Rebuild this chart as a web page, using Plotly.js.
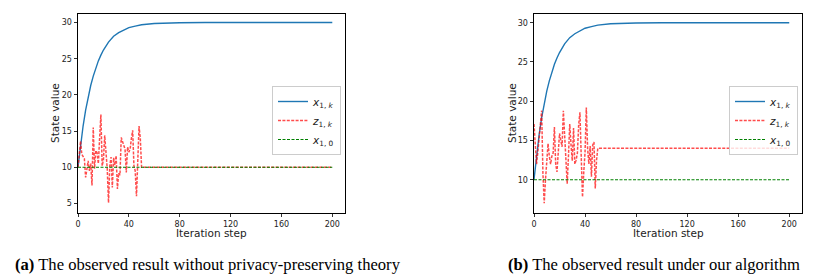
<!DOCTYPE html>
<html>
<head>
<meta charset="utf-8">
<script src="https://cdn.plot.ly/plotly-3.0.1.min.js"></script>
<style>
html,body{margin:0;padding:0;background:#fff;}
#chart{width:821px;height:278px;}
</style>
</head>
<body>
<div id="chart"></div>
<script>
// ---- data ----
var blueSteps = [0,2,4,6,8,10,12,14,16,18,20,24,28,32,36,40,45,50,60,70,80,100,200];
var blueValues = [10,13.1,15.7,17.9,19.7,21.3,22.6,23.8,24.7,25.5,26.2,27.3,28.1,28.6,29.0,29.3,29.5,29.7,29.87,29.94,29.97,30,30];

// left panel (a): observed z_{1,k}, steps 0..50, then stays at the tail value
var zLeftHead = [10,11.5,13.6,11.8,11.4,11.2,8.6,9.6,10.9,9.5,10.5,7.5,15.5,9.8,12.3,12.0,10.5,14.0,17.3,10.2,11.0,14.4,11.9,9.8,5.1,10.2,11.4,7.2,11.3,10.3,11.6,7.0,9.2,8.9,14.1,13.6,12.9,12.5,9.3,12.8,12.1,12.5,14.0,15.1,10.2,9.5,6.0,12.0,15.7,14.0,10.0];
var zLeftTail = 10;

// right panel (b): observed z_{1,k} under the algorithm
var zRightHead = [17.1,14.0,12.0,13.5,15.0,17.0,18.8,10.8,7.0,10.0,12.5,14.6,13.0,12.0,13.0,13.4,16.7,12.0,11.0,14.0,15.9,15.0,14.2,18.8,16.0,13.6,9.5,13.0,17.1,14.5,12.4,16.6,12.0,12.5,13.4,17.0,18.6,13.0,7.8,11.0,13.5,19.2,14.0,12.0,14.3,10.4,14.4,14.8,8.9,12.5,14.0];
var zRightTail = 14;

var x0Value = 10;
var lastStep = 200;

var xTicks = [0,40,80,120,160,200];
var yTicksLeft = [5,10,15,20,25,30];
var yTicksRight = [10,15,20,25,30];

var legendNames = ['<i>x</i><sub>1, <i>k</i></sub>', '<i>z</i><sub>1, <i>k</i></sub>', '<i>x</i><sub>1, 0</sub>'];
var captions = ['<b>(a)</b> The observed result without privacy-preserving theory', '<b>(b)</b> The observed result under our algorithm'];

// ---- build traces ----
function seriesFrom(head, tail){
  var xs = [], ys = [];
  for (var i = 0; i < head.length; i++){ xs.push(i); ys.push(head[i]); }
  xs.push(lastStep); ys.push(tail);
  return {x: xs, y: ys};
}
var zl = seriesFrom(zLeftHead, zLeftTail);
var zr = seriesFrom(zRightHead, zRightTail);

var blueLine = {color:'#1f77b4', width:1.4};
var redLine = {color:'rgba(255,0,0,0.7)', width:1.5, dash:'3px,1.4px'};
var greenLine = {color:'#008000', width:1.0, dash:'3px,1.5px'};

var traces = [
  {x:blueSteps, y:blueValues, xaxis:'x', yaxis:'y', mode:'lines', line:blueLine, name:legendNames[0], legend:'legend'},
  {x:zl.x, y:zl.y, xaxis:'x', yaxis:'y', mode:'lines', line:redLine, name:legendNames[1], legend:'legend'},
  {x:[0,lastStep], y:[x0Value,x0Value], xaxis:'x', yaxis:'y', mode:'lines', line:greenLine, name:legendNames[2], legend:'legend'},
  {x:blueSteps, y:blueValues, xaxis:'x2', yaxis:'y2', mode:'lines', line:blueLine, name:legendNames[0], legend:'legend2'},
  {x:zr.x, y:zr.y, xaxis:'x2', yaxis:'y2', mode:'lines', line:redLine, name:legendNames[1], legend:'legend2'},
  {x:[0,lastStep], y:[x0Value,x0Value], xaxis:'x2', yaxis:'y2', mode:'lines', line:greenLine, name:legendNames[2], legend:'legend2'}
];

var tickFont = {family:'DejaVu Sans', size:8, color:'#222'};
function xAxis(domain, anchor){
  return {domain:domain, anchor:anchor, range:[0,210], tickvals:xTicks, ticktext:xTicks.map(String),
    showline:true, mirror:true, linecolor:'#000', linewidth:1, ticks:'outside', ticklen:3.5, tickwidth:0.8,
    tickcolor:'#000', showgrid:false, zeroline:false, tickfont:tickFont, fixedrange:true};
}
function yAxis(domain, anchor, range, ticks){
  return {domain:domain, anchor:anchor, range:range, tickvals:ticks, ticktext:ticks.map(String),
    showline:true, mirror:true, linecolor:'#000', linewidth:1, ticks:'outside', ticklen:3.5, tickwidth:0.8,
    tickcolor:'#000', showgrid:false, zeroline:false, tickfont:tickFont, fixedrange:true};
}

var W = 821, H = 278;
function px(x){ return x / W; }
function py(y){ return 1 - y / H; }

var legendStyle = {
  bgcolor:'rgba(255,255,255,0.8)', bordercolor:'#cccccc', borderwidth:1,
  font:{family:'DejaVu Sans', size:10.5, color:'#222'},
  xanchor:'right', yanchor:'top', itemwidth:30, tracegroupgap:0
};
var legend1 = Object.assign({}, legendStyle, {x:px(341), y:py(86)});
var legend2 = Object.assign({}, legendStyle, {x:px(798), y:py(86)});

var titleFont = {family:'DejaVu Sans', size:10.5, color:'#222'};
var capFont = {family:'Liberation Serif', size:16.6, color:'#000'};

var layout = {
  width:W, height:H, margin:{l:0,r:0,t:0,b:0},
  paper_bgcolor:'#fff', plot_bgcolor:'#fff', showlegend:true,
  xaxis: xAxis([px(78), px(345)], 'y'),
  yaxis: yAxis([py(212.5), py(13.5)], 'x', [3.75,31.25], yTicksLeft),
  xaxis2: xAxis([px(534), px(802)], 'y2'),
  yaxis2: yAxis([py(212.5), py(13.7)], 'x2', [5.83,31.15], yTicksRight),
  legend: legend1,
  legend2: legend2,
  annotations: [
    {text:'State value', x:px(55), y:py(113), xref:'paper', yref:'paper', showarrow:false, textangle:-90, font:titleFont, xanchor:'center', yanchor:'middle'},
    {text:'State value', x:px(512), y:py(113), xref:'paper', yref:'paper', showarrow:false, textangle:-90, font:titleFont, xanchor:'center', yanchor:'middle'},
    {text:'Iteration step', x:px(211), y:py(233), xref:'paper', yref:'paper', showarrow:false, font:titleFont, xanchor:'center', yanchor:'middle'},
    {text:'Iteration step', x:px(668), y:py(233), xref:'paper', yref:'paper', showarrow:false, font:titleFont, xanchor:'center', yanchor:'middle'},
    {text:captions[0], x:px(208), y:py(264), xref:'paper', yref:'paper', showarrow:false, font:capFont, xanchor:'center', yanchor:'middle'},
    {text:captions[1], x:px(654), y:py(264), xref:'paper', yref:'paper', showarrow:false, font:capFont, xanchor:'center', yanchor:'middle'}
  ]
};

Plotly.newPlot('chart', traces, layout, {displayModeBar:false, staticPlot:true});
</script>
</body>
</html>
